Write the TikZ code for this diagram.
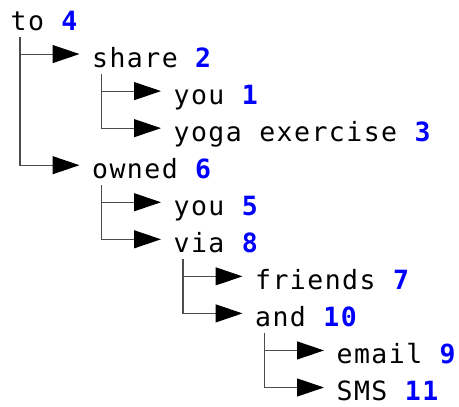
\documentclass[tikz,border=0pt]{standalone}
\usepackage{xcolor}
\usepackage{fontspec}
\usepackage{tikz}
\usetikzlibrary{arrows.meta}
\newfontfamily\treefont{DejaVu Sans Mono}[LetterSpace=5.5]
\tikzset{
    word/.style={anchor=base west, inner sep=0pt, font=\treefont\fontsize{26.5pt}{30pt}\selectfont},
    link/.style={black!70, line width=1.1pt, -{Triangle[length=27pt, width=18pt, color=black]}}
}

\begin{document}
\begin{tikzpicture}[x=1pt, y=-1pt]
    \useasboundingbox (0,0) rectangle (459,407);

    % words: name/level/row/text/index
    \foreach \n/\l/\r/\w/\k in {to/0/0/to/4, share/1/1/share/2, you1/2/2/you/1,
        yoga/2/3/yoga exercise/3, owned/1/4/owned/6, you5/2/5/you/5, via/2/6/via/8,
        friends/3/7/friends/7, and/3/8/and/10, email/4/9/email/9, sms/4/10/SMS/11} {
        \node[word] (\n) at (10.5+81.5*\l, 30+37.05*\r) {\w\ \textcolor{blue}{\bfseries\k}};
    }

    % branches
    \foreach \p/\c in {to/share, to/owned, share/you1, share/yoga, owned/you5, owned/via,
        via/friends, via/and, and/email, and/sms} {
        \draw[link] ([xshift=9.5pt, yshift=-7pt]\p.base west) |- ([xshift=-12.5pt, yshift=13pt]\c.base west);
    }
\end{tikzpicture}
\end{document}
